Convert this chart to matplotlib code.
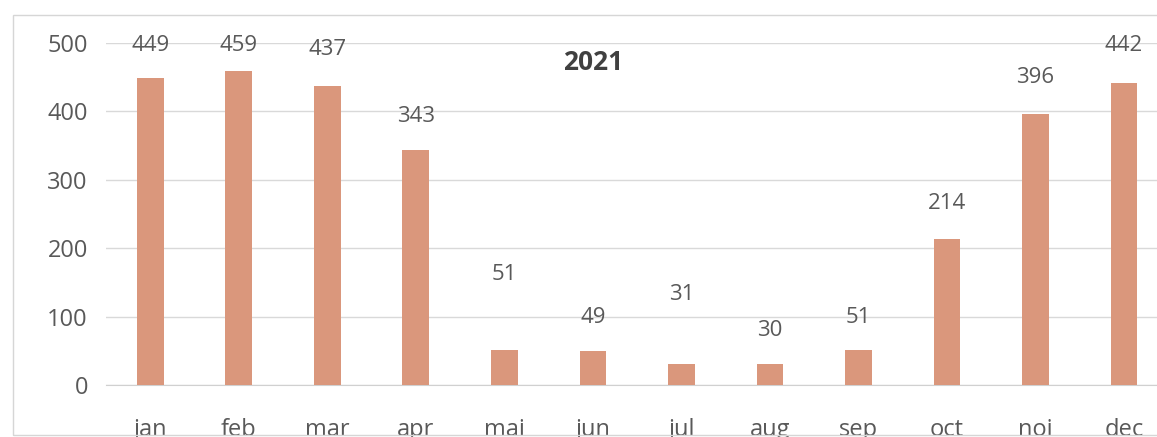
import matplotlib
matplotlib.use("Agg")
import matplotlib.pyplot as plt
from matplotlib.patches import Rectangle

# Monthly values, 2021
months = ['jan', 'feb', 'mar', 'apr', 'mai', 'jun', 'jul', 'aug', 'sep', 'oct', 'noi', 'dec']
values = [449, 459, 437, 343, 51, 49, 31, 30, 51, 214, 396, 442]
title = '2021'

plt.rcParams['font.family'] = ['Open Sans', 'DejaVu Sans']
text_col = '#595959'
bar_col = '#da977c'

fig = plt.figure(figsize=(11.57, 4.37), dpi=100)
ax = fig.add_axes([0.0916, 0.119, 0.918, 0.7826])

x = range(len(months))
ax.bar(x, values, width=0.3, color=bar_col, zorder=3)

# label offsets as placed in the original (a few were dragged higher)
offsets = [48, 38, 53, 50, 110, 49, 101, 50, 47, 52, 53, 55]
for i, v in enumerate(values):
    y = min(v + offsets[i], 497)
    ax.text(i, y, str(v), ha='center', va='center', fontsize=16,
            color=text_col, clip_on=False, zorder=4)

ax.text(5.0, 472, title, fontsize=19, fontweight='bold', color='#404040',
        ha='center', va='center')

ax.set_xlim(-0.5, 11.5)
ax.set_ylim(0, 500)
ax.set_yticks([0, 100, 200, 300, 400, 500])
ax.set_xticks(list(x))
ax.set_xticklabels(months)
ax.tick_params(axis='both', length=0, labelsize=17, labelcolor=text_col)
ax.tick_params(axis='x', pad=24)
ax.tick_params(axis='y', pad=13)
ax.grid(axis='y', color='#d9d9d9', linewidth=1, zorder=0)
for s in ['left', 'right', 'top']:
    ax.spines[s].set_visible(False)
ax.spines['bottom'].set_color('#d0d0d0')

# chart border
fig.add_artist(Rectangle((0.011, 0.005), 1.2, 0.96, transform=fig.transFigure,
                         fill=False, edgecolor='#d6d6d6', linewidth=1))

fig.savefig('out.png', dpi=100)
